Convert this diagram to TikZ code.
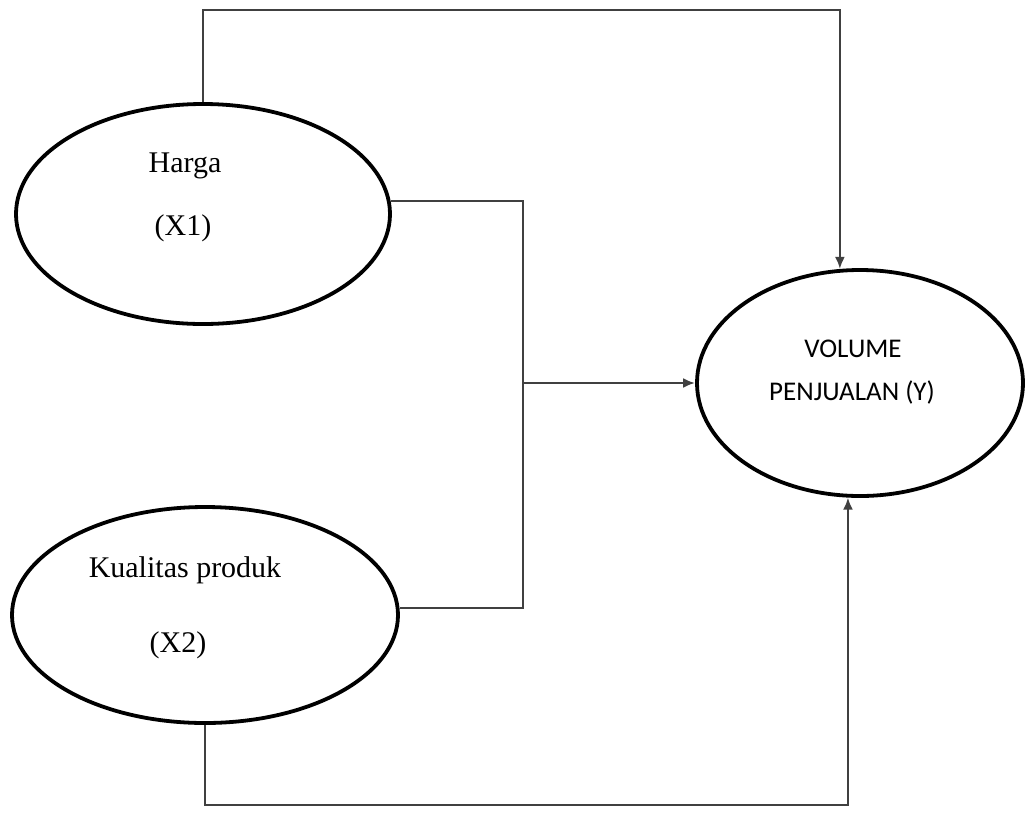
\documentclass[tikz,border=0pt]{standalone}
\usepackage{fontspec}
\setmainfont{Liberation Serif}
\newfontfamily\calib{Carlito}
\usetikzlibrary{shapes.geometric,arrows.meta}
\begin{document}
\begin{tikzpicture}[x=1pt,y=-1pt,
  oval/.style={ellipse,draw=black,line width=3.8pt,inner sep=0pt},
  conn/.style={draw=black!75,line width=2.5pt},
  arr/.style={conn,-{Latex[length=12pt,width=10pt]}},
  lbl/.style={anchor=base,inner sep=0pt,font=\fontsize{30}{36}\selectfont},
  vlbl/.style={anchor=base,inner sep=0pt,font=\calib\fontsize{27}{32}\selectfont}]
\useasboundingbox (0,0) rectangle (1025,812);
% ellipses
\node[oval,minimum width=374pt,minimum height=220pt] (harga) at (203,214) {};
\node[oval,minimum width=386pt,minimum height=216pt] (kual) at (205,615) {};
\node[oval,minimum width=326pt,minimum height=226pt] (vol) at (860,383) {};
% texts
\node[lbl] (t1) at (185,172) {Harga};
\node[lbl] (t2) at (183,235) {(X1)};
\node[lbl] (t3) at (185,577) {Kualitas produk};
\node[lbl] (t4) at (178,652) {(X2)};
\node[vlbl] (t5) at (853,357) {VOLUME};
\node[vlbl] (t6) at (852,400) {PENJUALAN (Y)};
% helper coordinates
\coordinate (topy) at (0,10);
\coordinate (boty) at (0,805);
\coordinate (tr) at (vol.100 |- topy);
\coordinate (j3) at (523,383);
\coordinate (br) at (vol.-96 |- boty);
% connectors
\draw[arr] (harga.north) |- (tr) -- (vol.100);
\draw[conn] (harga.4) -| (j3) |- (kual.2);
\draw[arr] (j3) -- (vol.west);
\draw[arr] (kual.south) |- (br) -- (vol.-96);
\end{tikzpicture}
\end{document}
